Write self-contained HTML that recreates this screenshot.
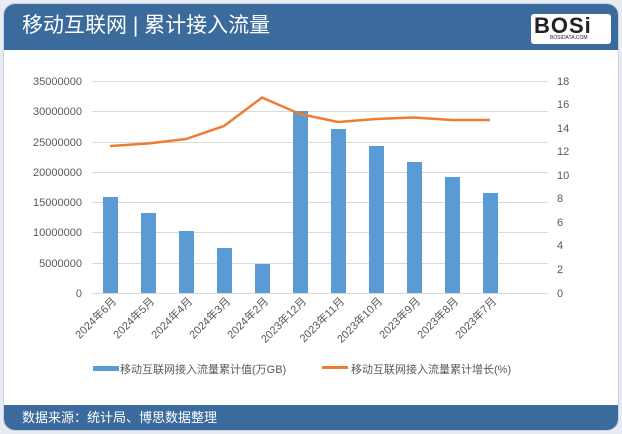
<!DOCTYPE html>
<html><head><meta charset="utf-8"><style>
body{margin:0;width:622px;height:434px;background:#e8ecf2;font-family:"Liberation Sans","Noto Sans CJK SC",sans-serif;overflow:hidden}
.card{position:absolute;left:3px;top:3px;width:614px;height:426px;background:#fff;border-radius:12px;overflow:hidden;border:1px solid #c9d3e0}
.hd{position:absolute;left:0;top:0;width:614px;height:46px;background:#3b6a9c}
.ft{position:absolute;left:0;top:401px;width:614px;height:25px;background:#3b6a9c;color:#fff;font-size:13px;line-height:25px;padding-left:18px;box-sizing:border-box}
</style></head><body>
<div class="card">
<div class="hd">
<div style="position:absolute;left:18px;top:8px;color:#fff;font-size:21px;line-height:28px">移动互联网 | 累计接入流量</div>
<div style="position:absolute;left:527px;top:10px;width:80px;height:30px;background:#fff;border-radius:3px"></div>
<div style="position:absolute;left:530px;top:9px;width:74px;font:bold 22px 'Liberation Sans',sans-serif;color:#222;letter-spacing:1px">BOSi</div>
<div style="position:absolute;left:546px;top:31px;font-size:5px;color:#222">BOSIDATA.COM</div>
</div>
<div class="ft">数据来源：统计局、博思数据整理</div>
</div>
<svg style="position:absolute;left:0;top:0" width="622" height="434" font-family="Liberation Sans,Noto Sans CJK SC,sans-serif">
<g stroke="#d9d9d9" stroke-width="1">
<line x1="92" x2="548" y1="81.5" y2="81.5"/><line x1="92" x2="548" y1="111.5" y2="111.5"/><line x1="92" x2="548" y1="142.5" y2="142.5"/><line x1="92" x2="548" y1="172.5" y2="172.5"/><line x1="92" x2="548" y1="202.5" y2="202.5"/><line x1="92" x2="548" y1="232.5" y2="232.5"/><line x1="92" x2="548" y1="263.5" y2="263.5"/><line x1="92" x2="548" y1="293.5" y2="293.5"/>
</g>
<g fill="#595959" font-size="11" text-anchor="end">
<text x="82" y="85">35000000</text><text x="82" y="115">30000000</text><text x="82" y="146">25000000</text><text x="82" y="176">20000000</text><text x="82" y="206">15000000</text><text x="82" y="236">10000000</text><text x="82" y="267">5000000</text><text x="82" y="297">0</text>
</g>
<g fill="#595959" font-size="11" text-anchor="start">
<text x="557" y="85">18</text><text x="557" y="108">16</text><text x="557" y="132">14</text><text x="557" y="155">12</text><text x="557" y="179">10</text><text x="557" y="202">8</text><text x="557" y="226">6</text><text x="557" y="249">4</text><text x="557" y="273">2</text><text x="557" y="297">0</text>
</g>
<g fill="#5b9bd5">
<rect x="103" y="197" width="15" height="96"/><rect x="141" y="213" width="15" height="80"/><rect x="179" y="231" width="15" height="62"/><rect x="217" y="248" width="15" height="45"/><rect x="255" y="264" width="15" height="29"/><rect x="293" y="111" width="15" height="182"/><rect x="331" y="129" width="15" height="164"/><rect x="369" y="146" width="15" height="147"/><rect x="407" y="162" width="15" height="131"/><rect x="445" y="177" width="15" height="116"/><rect x="483" y="193" width="15" height="100"/>
</g>
<polyline fill="none" stroke="#ed7d31" stroke-width="2.5" points="110,146 148,143.5 186,139 224,126 262,97.5 300,114 338,122 376,119 414,117.5 452,120 490,120"/>
<g fill="#595959" font-size="11" text-anchor="end">
<text transform="translate(117,302) rotate(-45)">2024年6月</text>
<text transform="translate(155,302) rotate(-45)">2024年5月</text>
<text transform="translate(193,302) rotate(-45)">2024年4月</text>
<text transform="translate(231,302) rotate(-45)">2024年3月</text>
<text transform="translate(269,302) rotate(-45)">2024年2月</text>
<text transform="translate(307,302) rotate(-45)">2023年12月</text>
<text transform="translate(345,302) rotate(-45)">2023年11月</text>
<text transform="translate(383,302) rotate(-45)">2023年10月</text>
<text transform="translate(421,302) rotate(-45)">2023年9月</text>
<text transform="translate(459,302) rotate(-45)">2023年8月</text>
<text transform="translate(497,302) rotate(-45)">2023年7月</text>
</g>
<rect x="93" y="366" width="26" height="5" fill="#5b9bd5"/>
<text x="120" y="373" font-size="11" fill="#595959">移动互联网接入流量累计值(万GB)</text>
<rect x="322" y="366" width="26" height="3" fill="#ed7d31"/>
<text x="351" y="373" font-size="11" fill="#595959">移动互联网接入流量累计增长(%)</text>
</svg>
</body></html>
